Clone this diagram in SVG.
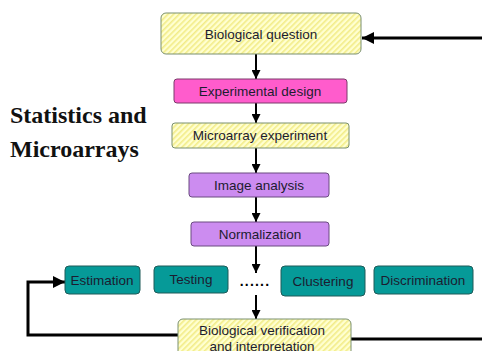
<svg xmlns="http://www.w3.org/2000/svg" width="482" height="351" viewBox="0 0 482 351">
<defs>
<pattern id="hatch" patternUnits="userSpaceOnUse" width="4" height="4" patternTransform="rotate(45)">
<rect width="4" height="4" fill="#ffffd0"/>
<rect width="1.6" height="4" fill="#f2ec88"/>
</pattern>
<marker id="ah" viewBox="0 0 10 10" refX="10" refY="5" markerWidth="4.5" markerHeight="4.5" orient="auto" markerUnits="strokeWidth">
<path d="M0,0 L10,5 L0,10 z" fill="#000"/>
</marker>
<marker id="ahb" viewBox="0 0 10 10" refX="10" refY="5" markerWidth="4.2" markerHeight="4" orient="auto" markerUnits="strokeWidth">
<path d="M0,0 L10,5 L0,10 z" fill="#000"/>
</marker>
</defs>
<style>
.lbl{font-family:"Liberation Sans",Arial,sans-serif;font-size:13.5px;fill:#1c1c30;text-anchor:middle}
.y{fill:url(#hatch);stroke:#7a9070;stroke-width:1}
.p{fill:#ff5ccc;stroke:#7a3a6a;stroke-width:1}
.v{fill:#cc8cf0;stroke:#6a4a80;stroke-width:1}
.t{fill:#069a98;stroke:#1f5a58;stroke-width:1}
.arr{stroke:#000;stroke-width:2;fill:none;marker-end:url(#ah)}
.fb{stroke:#000;stroke-width:3;fill:none}
.title{font-family:"Liberation Serif","Times New Roman",serif;font-weight:bold;font-size:24px;fill:#111}
</style>
<text class="title" x="10" y="123">Statistics and</text>
<text class="title" x="10" y="157">Microarrays</text>
<g id="connectors">
<line class="arr" x1="256" y1="54" x2="256" y2="79"/>
<line class="arr" x1="256" y1="103" x2="256" y2="123"/>
<line class="arr" x1="256" y1="148" x2="256" y2="173"/>
<line class="arr" x1="256" y1="197" x2="256" y2="222"/>
<line class="arr" x1="256" y1="246" x2="256" y2="273"/>
<line class="arr" x1="256" y1="295" x2="256" y2="319"/>
<polyline class="fb" points="482,38 362,38" marker-end="url(#ahb)"/>
<polyline class="fb" points="178,335 28,335 28,282 65,282" marker-end="url(#ahb)"/>
<line class="fb" x1="351" y1="339" x2="482" y2="339"/>
</g>
<g id="bio-question">
<rect class="y" x="161" y="13" width="200" height="41" rx="5"/>
<text class="lbl" x="261" y="39">Biological question</text>
</g>
<g id="exp-design">
<rect class="p" x="174" y="79" width="173" height="24" rx="3"/>
<text class="lbl" x="260" y="96">Experimental design</text>
</g>
<g id="microarray">
<rect class="y" x="172" y="123" width="177" height="25" rx="3"/>
<text class="lbl" x="260" y="140">Microarray experiment</text>
</g>
<g id="image-analysis">
<rect class="v" x="189" y="173" width="140" height="24" rx="3"/>
<text class="lbl" x="259" y="190">Image analysis</text>
</g>
<g id="normalization">
<rect class="v" x="191" y="222" width="138" height="24" rx="3"/>
<text class="lbl" x="260" y="239">Normalization</text>
</g>
<g id="estimation">
<rect class="t" x="65" y="266" width="75" height="28" rx="4"/>
<text class="lbl" x="102" y="285">Estimation</text>
</g>
<g id="testing">
<rect class="t" x="154" y="266" width="74" height="27" rx="4"/>
<text class="lbl" x="191" y="284">Testing</text>
</g>
<g id="dots">
<text x="255" y="286" style="font-family:'Liberation Sans',Arial,sans-serif;font-size:14px;font-weight:bold;fill:#000;text-anchor:middle;letter-spacing:1.2px">......</text>
</g>
<g id="clustering">
<rect class="t" x="281" y="266" width="84" height="30" rx="4"/>
<text class="lbl" x="323" y="286">Clustering</text>
</g>
<g id="discrimination">
<rect class="t" x="374" y="266" width="99" height="28" rx="4"/>
<text class="lbl" x="423" y="285">Discrimination</text>
</g>
<g id="bio-verification">
<rect class="y" x="178" y="319" width="173" height="45" rx="5"/>
<text class="lbl" x="262" y="335">Biological verification</text>
<text class="lbl" x="262" y="351">and interpretation</text>
</g>
</svg>
